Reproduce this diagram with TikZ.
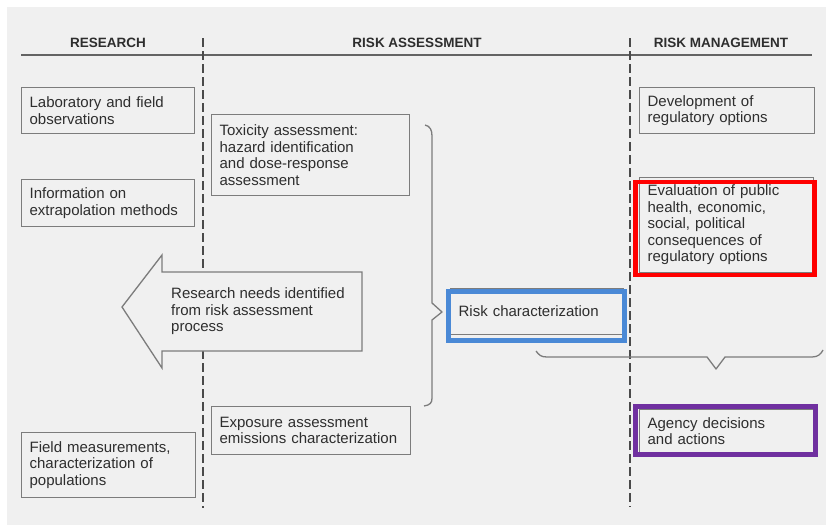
\documentclass[tikz,border=0pt]{standalone}
\usepackage{fontspec}
\setmainfont{Liberation Sans}
\definecolor{bg}{HTML}{F0F0F0}
\definecolor{boxgray}{HTML}{7C7C7C}
\definecolor{txt}{HTML}{2E2E2E}
\definecolor{dashgray}{HTML}{4A4A4A}
\definecolor{frblue}{HTML}{4A89D6}
\definecolor{frred}{HTML}{FF0000}
\definecolor{frpurple}{HTML}{7030A0}
\newcommand{\bodyfont}{\fontsize{15}{16.5}\selectfont}
\begin{document}
\begin{tikzpicture}[x=1pt,y=-1pt,
  head/.style={font=\fontsize{13.5}{15}\selectfont\bfseries, text=txt, inner sep=0pt},
  box/.style={draw=boxgray, line width=1.2pt, text=txt, align=left, anchor=north west,
              inner xsep=8pt, inner ysep=0pt, font=\bodyfont},
  plain/.style={text=txt, align=left, inner sep=0pt, font=\bodyfont},
  rule/.style={draw=boxgray!80!black, line width=1.2pt},
  divider/.style={draw=dashgray, line width=1.4pt, dash pattern=on 9pt off 4pt},
  bracebar/.style={draw=boxgray, line width=1.3pt, line join=round},
  hl/.style={draw=#1, line width=4.5pt, inner sep=0pt, fill=none}
]
\useasboundingbox (0,0) rectangle (826,525);
\fill[white] (0,0) rectangle (826,525);
\fill[bg] (7,7) rectangle (826,525);

% headers
\node[head] (hres) at (108,43) {RESEARCH};
\node[head] (hra) at (417,43) {RISK ASSESSMENT};
\node[head] (hrm) at (721,43) {RISK MANAGEMENT};
\coordinate (hl) at (21,55);
\coordinate (hr) at (812,55);
\draw[rule] (hl) -- (hr);

% dashed dividers
\coordinate (d1t) at (203,38);
\coordinate (d1b) at (203,508);
\coordinate (d2t) at (630,38);
\coordinate (d2b) at (630,507);
\draw[divider] (d1t) -- (d1b);
\draw[divider] (d2t) -- (d2b);

% research column
\node[box, minimum width=173pt, minimum height=46pt, text width=157pt] (lab) at (21,87)
  {Laboratory and field\\observations};
\node[box, minimum width=173pt, minimum height=47pt, text width=157pt] (info) at (21,179)
  {Information on\\extrapolation methods};
\node[box, minimum width=174pt, minimum height=65pt, text width=158pt] (field) at (21,432)
  {Field measurements,\\characterization of\\populations};

% risk assessment column
\node[box, minimum width=198pt, minimum height=81pt, text width=182pt] (tox) at (211,114)
  {Toxicity assessment:\\hazard identification\\and dose-response\\assessment};
\node[box, minimum width=199pt, minimum height=48pt, text width=183pt] (expo) at (211,406)
  {Exposure assessment\\emissions characterization};
\node[box, minimum width=173pt, minimum height=46pt, text width=157pt] (riskc) at (450,288)
  {Risk characterization};

% big arrow back to research
\draw[draw=boxgray, line width=1.3pt, fill=bg, line join=miter]
  (122,307) -- (162,255) -- (162,272) -- (362,272) -- (362,351) -- (162,351) -- (162,368) -- cycle;
\node[plain, anchor=west] (needs) at (171,311.5)
  {Research needs identified\\from risk assessment\\process};

% risk management column
\node[box, minimum width=175pt, minimum height=46pt, text width=159pt] (dev) at (639,87)
  {Development of\\regulatory options};
\node[box, minimum width=174pt, minimum height=95pt, text width=158pt] (eval) at (639,177)
  {Evaluation of public\\health, economic,\\social, political\\consequences of\\regulatory options};
\node[box, minimum width=174pt, minimum height=43pt, text width=158pt] (agency) at (639,409)
  {Agency decisions\\and actions};

% braces
\draw[bracebar] (425,125) .. controls (430,126) and (432,130) .. (432,136)
  -- (432,303) -- (442,312) -- (432,320) -- (432,398)
  .. controls (432,403) and (430,405) .. (424,406);
\draw[bracebar] (536,351) .. controls (539,355) and (541,357) .. (547,357)
  -- (707,357) -- (716,369) -- (725,357) -- (812,357)
  .. controls (818,357) and (821,354) .. (823,350);

% highlight frames
\node[hl=frblue, minimum width=176pt, minimum height=49pt] (fblue) at (536.5,316) {};
\node[hl=frred, minimum width=179pt, minimum height=93pt] (fred) at (725,228.5) {};
\node[hl=frpurple, minimum width=180pt, minimum height=48pt] (fpurple) at (725.5,430.5) {};
\end{tikzpicture}
\end{document}
